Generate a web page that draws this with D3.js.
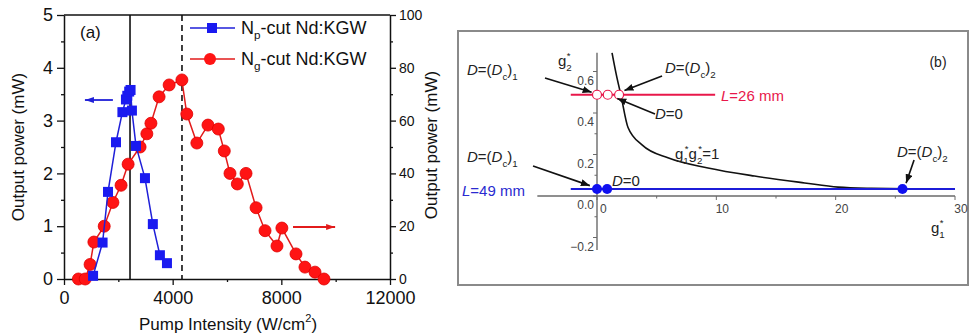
<!DOCTYPE html>
<html>
<head>
<meta charset="utf-8">
<script src="https://cdn.jsdelivr.net/npm/d3@7"></script>
<style>
body { margin: 0; background: #fff; }
svg { font-family: "Liberation Sans", Arial, sans-serif; }
</style>
</head>
<body>
<svg id="chart" width="971" height="336"></svg>
<script>
// ---- panel (a) data: pump intensity (W/cm2) vs output power
const npIntensity = [1070, 1420, 1620, 1914, 2150, 2280, 2330, 2400, 2450, 2500, 2650, 2980, 3270, 3530, 3790];
const npPower = [0.06, 0.69, 1.65, 2.59, 3.16, 3.40, 3.47, 3.55, 3.58, 3.19, 2.52, 1.91, 1.04, 0.45, 0.30];
const ngIntensity = [530, 780, 960, 1100, 1480, 1800, 2100, 2360, 2800, 3050, 3200, 3500, 3870, 4340, 4520, 4890,
	5300, 5680, 5900, 6110, 6380, 6700, 7070, 7400, 7840, 8020, 8540, 8870, 9240, 9570];
const ngPower = [0, 0, 5.5, 14, 20, 29, 35.5, 43.5, 50, 55, 59, 69, 73.5, 75.4, 62.5, 51.5,
	58.3, 56.8, 48.5, 40, 36, 40, 27, 18.3, 12.5, 19.3, 9.5, 4.5, 2.6, 0];
const solidMarkLine = 2430;
const dashedMarkLine = 4343;
const xTicksA = [0, 4000, 8000, 12000];
const xMinorA = [2000, 6000, 10000];
const yTicksLeft = [0, 1, 2, 3, 4, 5];
const yMinorLeft = [0.5, 1.5, 2.5, 3.5, 4.5];
const yTicksRight = [0, 20, 40, 60, 80, 100];
const yMinorRight = [10, 30, 50, 70, 90];

// ---- panel (b) data: stability diagram g1* vs g2*
const xTicksB = [0, 10, 20, 30];
const xMinorB = [5, 15, 25];
const yTicksB = [-0.2, 0, 0.2, 0.4, 0.6];
const yMinorB = [-0.1, 0.1, 0.3, 0.5];
const redLineG1 = [-2.2, 9.9];
const redG2 = 0.488;
const redPointsG1 = [0, 0.9, 1.85];
const blueLineG1 = [-2.2, 30];
const blueG2 = 0.034;
const bluePointsG1 = [0, 0.85, 25.6];
const curveG1 = [1.26, 1.6, 2.0, 2.6, 3.8, 6.0, 9.3, 13.2, 17.4, 20.2, 23, 26, 30];
const curveG2 = [0.69, 0.59, 0.487, 0.33, 0.245, 0.183, 0.135, 0.096, 0.063, 0.043, 0.037, 0.035, 0.035];

const svg = d3.select("#chart");

const defs = svg.append("defs");
function arrowMarker(id, color, w, h) {
	defs.append("marker")
		.attr("id", id)
		.attr("markerUnits", "userSpaceOnUse")
		.attr("markerWidth", w).attr("markerHeight", h)
		.attr("refX", w).attr("refY", h / 2)
		.attr("orient", "auto")
		.append("path")
		.attr("d", `M0,0L${w},${h / 2}L0,${h}Z`)
		.attr("fill", color);
}
arrowMarker("headBlue", "#1f1fd8", 9, 6);
arrowMarker("headRed", "#e21b1b", 9, 6);
arrowMarker("headBlack", "#111", 9, 7);

// rich text: parts with sub / sup / italic
function richText(g, x, y, parts, size, color, anchor) {
	const t = g.append("text")
		.attr("x", x).attr("y", y)
		.attr("font-size", size)
		.attr("fill", color)
		.attr("text-anchor", anchor || "start");
	let level = 0;
	parts.forEach(p => {
		const lv = p.sub ? size * 0.3 : (p.sup ? -size * 0.45 : 0);
		const s = t.append("tspan").text(p.t);
		if (lv !== level) s.attr("dy", lv - level);
		if (p.sub || p.sup) s.attr("font-size", size * 0.65);
		if (p.i) s.attr("font-style", "italic");
		if (p.dx) s.attr("dx", p.dx);
		level = lv;
	});
	return t;
}

// ================= panel (a) =================
const A = {left: 64, right: 390, top: 15, bottom: 279};
const xA = d3.scaleLinear().domain([0, 12000]).range([A.left, A.right]);
const yL = d3.scaleLinear().domain([0, 5]).range([A.bottom, A.top]);
const yR = d3.scaleLinear().domain([0, 100]).range([A.bottom, A.top]);
const ga = svg.append("g");

function styleAxis(sel, size) {
	sel.selectAll("path.domain").attr("stroke", "#111").attr("stroke-width", 1.5);
	sel.selectAll(".tick line").attr("stroke", "#111").attr("stroke-width", 1.3);
	sel.selectAll(".tick text")
		.attr("font-size", size)
		.attr("font-family", "Liberation Sans, Arial, sans-serif")
		.attr("fill", "#111");
}

// top frame line
ga.append("line")
	.attr("x1", A.left).attr("x2", A.right)
	.attr("y1", A.top).attr("y2", A.top)
	.attr("stroke", "#111").attr("stroke-width", 1.5);

// minor ticks
ga.append("g").attr("transform", `translate(0,${A.bottom})`)
	.call(d3.axisBottom(xA).tickValues(xMinorA).tickSize(3).tickFormat(""))
	.call(s => { s.select(".domain").remove(); styleAxis(s, 0); });
ga.append("g").attr("transform", `translate(${A.left},0)`)
	.call(d3.axisLeft(yL).tickValues(yMinorLeft).tickSize(3).tickFormat(""))
	.call(s => { s.select(".domain").remove(); styleAxis(s, 0); });
ga.append("g").attr("transform", `translate(${A.right},0)`)
	.call(d3.axisRight(yR).tickValues(yMinorRight).tickSize(3).tickFormat(""))
	.call(s => { s.select(".domain").remove(); styleAxis(s, 0); });

// major axes
ga.append("g").attr("transform", `translate(0,${A.bottom})`)
	.call(d3.axisBottom(xA).tickValues(xTicksA).tickSize(6).tickSizeOuter(0).tickPadding(6).tickFormat(d3.format("d")))
	.call(s => styleAxis(s, 18));
ga.append("g").attr("transform", `translate(${A.left},0)`)
	.call(d3.axisLeft(yL).tickValues(yTicksLeft).tickSize(7).tickSizeOuter(0).tickPadding(4).tickFormat(d3.format("d")))
	.call(s => styleAxis(s, 18));
ga.append("g").attr("transform", `translate(${A.right},0)`)
	.call(d3.axisRight(yR).tickValues(yTicksRight).tickSize(6).tickSizeOuter(0).tickPadding(3).tickFormat(d3.format("d")))
	.call(s => styleAxis(s, 14));

// axis titles
ga.append("text")
	.attr("transform", `translate(24,${(A.top + A.bottom) / 2}) rotate(-90)`)
	.attr("text-anchor", "middle").attr("font-size", 17).attr("fill", "#111")
	.text("Output power (mW)");
ga.append("text")
	.attr("transform", `translate(437,${(A.top + A.bottom) / 2 - 2}) rotate(-90)`)
	.attr("text-anchor", "middle").attr("font-size", 17).attr("fill", "#111")
	.text("Output power (mW)");
richText(ga, 228, 330, [{t: "Pump Intensity (W/cm"}, {t: "2", sup: 1}, {t: ")"}], 17, "#111", "middle");

// vertical marker lines
ga.append("line")
	.attr("x1", xA(solidMarkLine)).attr("x2", xA(solidMarkLine))
	.attr("y1", A.top).attr("y2", A.bottom)
	.attr("stroke", "#111").attr("stroke-width", 1.6);
ga.append("line")
	.attr("x1", xA(dashedMarkLine)).attr("x2", xA(dashedMarkLine))
	.attr("y1", A.top).attr("y2", A.bottom)
	.attr("stroke", "#111").attr("stroke-width", 1.6)
	.attr("stroke-dasharray", "6,4");

// Ng series (right axis)
const ngPts = ngIntensity.map((x, i) => [x, ngPower[i]]);
ga.append("path").datum(ngPts)
	.attr("d", d3.line().x(d => xA(d[0])).y(d => yR(d[1])))
	.attr("fill", "none").attr("stroke", "#e21b1b").attr("stroke-width", 1.5);
ga.selectAll("circle.ng").data(ngPts).enter().append("circle")
	.attr("cx", d => xA(d[0])).attr("cy", d => yR(d[1])).attr("r", 6)
	.attr("fill", "#ff1414").attr("stroke", "#e00000").attr("stroke-width", 0.8);

// Np series (left axis)
const npPts = npIntensity.map((x, i) => [x, npPower[i]]);
ga.append("path").datum(npPts)
	.attr("d", d3.line().x(d => xA(d[0])).y(d => yL(d[1])))
	.attr("fill", "none").attr("stroke", "#1f1fd8").attr("stroke-width", 1.5);
ga.selectAll("rect.np").data(npPts).enter().append("rect")
	.attr("x", d => xA(d[0]) - 5).attr("y", d => yL(d[1]) - 5)
	.attr("width", 10).attr("height", 10)
	.attr("fill", "#1a1af0");

// axis-direction arrows
ga.append("line")
	.attr("x1", xA(1800)).attr("x2", xA(770))
	.attr("y1", yL(3.39)).attr("y2", yL(3.39))
	.attr("stroke", "#1f1fd8").attr("stroke-width", 1.8)
	.attr("marker-end", "url(#headBlue)");
ga.append("line")
	.attr("x1", xA(8430)).attr("x2", xA(9980))
	.attr("y1", yR(19.7)).attr("y2", yR(19.7))
	.attr("stroke", "#e21b1b").attr("stroke-width", 1.8)
	.attr("marker-end", "url(#headRed)");

ga.append("text").attr("x", 80).attr("y", 38).attr("font-size", 17).attr("fill", "#111").text("(a)");

// legend
const legend = [
	{name: "p", color: "#1f1fd8", fill: "#1a1af0", shape: "square", y: 28},
	{name: "g", color: "#e21b1b", fill: "#ff1414", shape: "circle", y: 59}
];
legend.forEach(item => {
	ga.append("line").attr("x1", 190).attr("x2", 235).attr("y1", item.y).attr("y2", item.y)
		.attr("stroke", item.color).attr("stroke-width", 1.5);
	if (item.shape === "square") {
		ga.append("rect").attr("x", 207).attr("y", item.y - 5).attr("width", 10).attr("height", 10).attr("fill", item.fill);
	} else {
		ga.append("circle").attr("cx", 210).attr("cy", item.y).attr("r", 6).attr("fill", item.fill);
	}
	richText(ga, 241, item.y + 6, [{t: "N"}, {t: item.name, sub: 1}, {t: "-cut Nd:KGW"}], 18, "#111");
});

// ================= panel (b) =================
const gb = svg.append("g");
gb.append("rect").attr("x", 458).attr("y", 31).attr("width", 510).attr("height", 254)
	.attr("fill", "none").attr("stroke", "#8a8a8a").attr("stroke-width", 2);

const xB = d3.scaleLinear().domain([0, 30]).range([597, 955]);
const yB = d3.scaleLinear().domain([0, 0.6]).range([196, 196 - 0.6 * 207.5]);
const axisGrey = "#6a6a6a";

// axes lines
gb.append("line").attr("x1", xB(-5)).attr("x2", xB(30)).attr("y1", yB(0)).attr("y2", yB(0))
	.attr("stroke", axisGrey).attr("stroke-width", 1.4);
gb.append("line").attr("x1", xB(0)).attr("x2", xB(0)).attr("y1", yB(0.69)).attr("y2", yB(-0.26))
	.attr("stroke", axisGrey).attr("stroke-width", 1.4);

// ticks
gb.selectAll("line.xt").data(xTicksB.concat(xMinorB)).enter().append("line")
	.attr("x1", d => xB(d)).attr("x2", d => xB(d))
	.attr("y1", yB(0)).attr("y2", d => yB(0) + (xTicksB.includes(d) ? 4 : 2.5))
	.attr("stroke", axisGrey).attr("stroke-width", 1);
gb.selectAll("line.yt").data(yTicksB.concat(yMinorB)).enter().append("line")
	.attr("x1", xB(0)).attr("x2", d => xB(0) - (yTicksB.includes(d) ? 4 : 2.5))
	.attr("y1", d => yB(d)).attr("y2", d => yB(d))
	.attr("stroke", axisGrey).attr("stroke-width", 1);
gb.selectAll("text.xl").data(xTicksB).enter().append("text")
	.attr("x", d => xB(d) + (d === 0 ? 3 : 6))
	.attr("y", yB(0) + 17)
	.attr("text-anchor", d => d === 0 ? "start" : "middle")
	.attr("font-size", 12).attr("fill", "#444")
	.text(d => d);
gb.selectAll("text.yl").data(yTicksB).enter().append("text")
	.attr("x", xB(0) - 3)
	.attr("y", d => yB(d) + 13)
	.attr("text-anchor", "end")
	.attr("font-size", 12).attr("fill", "#444")
	.text(d => d3.format(".1f")(d));

// axis names
richText(gb, 558, 66, [{t: "g"}, {t: "2", sub: 1}, {t: "*", sup: 1, dx: -5}], 15, "#222");
richText(gb, 931, 233, [{t: "g"}, {t: "1", sub: 1}, {t: "*", sup: 1, dx: -5}], 15, "#222");
gb.append("text").attr("x", 938).attr("y", 67).attr("text-anchor", "middle")
	.attr("font-size", 14).attr("fill", "#222").text("(b)");

// g1*g2* = 1 curve
const curvePts = curveG1.map((g, i) => [g, curveG2[i]]);
gb.append("path").datum(curvePts)
	.attr("d", d3.line().x(d => xB(d[0])).y(d => yB(d[1])).curve(d3.curveMonotoneX))
	.attr("fill", "none").attr("stroke", "#111").attr("stroke-width", 1.6);

// L = 26 mm (red)
gb.append("line").attr("x1", xB(redLineG1[0])).attr("x2", xB(redLineG1[1]))
	.attr("y1", yB(redG2)).attr("y2", yB(redG2))
	.attr("stroke", "#e8174a").attr("stroke-width", 2);
gb.selectAll("circle.rp").data(redPointsG1).enter().append("circle")
	.attr("cx", d => xB(d)).attr("cy", yB(redG2)).attr("r", 4.5)
	.attr("fill", "#fff").attr("stroke", "#e8174a").attr("stroke-width", 1.2);

// L = 49 mm (blue)
gb.append("line").attr("x1", xB(blueLineG1[0])).attr("x2", xB(blueLineG1[1]))
	.attr("y1", yB(blueG2)).attr("y2", yB(blueG2))
	.attr("stroke", "#1c1cd8").attr("stroke-width", 2);
gb.selectAll("circle.bp").data(bluePointsG1).enter().append("circle")
	.attr("cx", d => xB(d)).attr("cy", yB(blueG2)).attr("r", 5)
	.attr("fill", "#1010f0");

// annotation arrows, in (g1, g2)
const arrows = [
	[[-4.36, 0.569], [-0.45, 0.50]],
	[[5.45, 0.578], [2.3, 0.508]],
	[[4.86, 0.395], [1.7, 0.47]],
	[[-5.36, 0.145], [-0.6, 0.05]],
	[[26.57, 0.173], [25.9, 0.062]]
];
arrows.forEach(a => {
	gb.append("line")
		.attr("x1", xB(a[0][0])).attr("y1", yB(a[0][1]))
		.attr("x2", xB(a[1][0])).attr("y2", yB(a[1][1]))
		.attr("stroke", "#111").attr("stroke-width", 1.6)
		.attr("marker-end", "url(#headBlack)");
});

const dc = n => [{t: "D", i: 1}, {t: "=("}, {t: "D", i: 1}, {t: "c", sub: 1}, {t: ")"}, {t: n, sub: 1}];
richText(gb, 467, 75, dc("1"), 15, "#222");
richText(gb, 665, 73, dc("2"), 15, "#222");
richText(gb, 467, 162, dc("1"), 15, "#222");
richText(gb, 897, 157, dc("2"), 15, "#222");
richText(gb, 655, 119, [{t: "D", i: 1}, {t: "=0"}], 15, "#222");
richText(gb, 612, 186, [{t: "D", i: 1}, {t: "=0"}], 15, "#222");
richText(gb, 721, 101, [{t: "L", i: 1}, {t: "=26 mm"}], 15, "#e8174a");
richText(gb, 462, 196, [{t: "L", i: 1}, {t: "=49 mm"}], 15, "#2a2ad0");
richText(gb, 675, 159, [{t: "g"}, {t: "1", sub: 1}, {t: "*", sup: 1, dx: -4}, {t: "g"}, {t: "2", sub: 1},
	{t: "*", sup: 1, dx: -4}, {t: "=1"}], 15, "#222");
</script>
</body>
</html>
